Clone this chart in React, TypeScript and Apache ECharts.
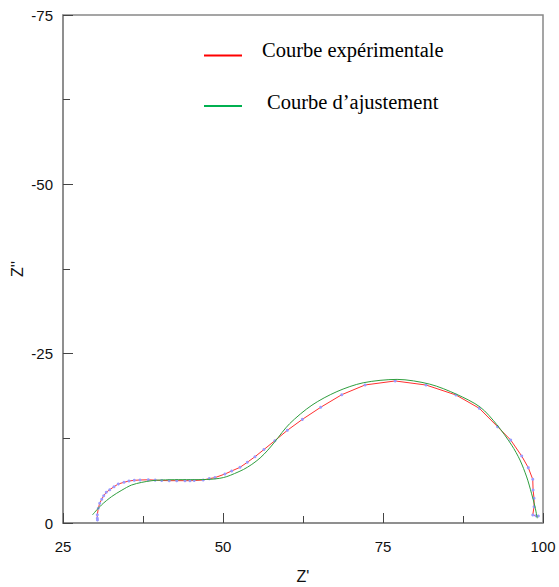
import React, { useEffect, useRef } from "react";
import * as echarts from "echarts";

// Experimental data: Z' (ohm), Z'' (ohm)
const expZre = [30.38, 30.36, 30.36, 30.52, 30.73, 31.05, 31.36, 31.77, 32.3, 32.97, 33.64, 34.53, 35.31, 36.14, 37.03, 38.33, 39.4, 40.42, 41.6, 42.77, 44.06, 44.84, 45.5, 46.9, 47.86, 48.75, 50.3, 51.36, 52.66, 53.8, 55.0, 56.4, 58.1, 60.05, 62.4, 65.26, 68.55, 72.2, 76.9, 81.72, 86.4, 90.05, 92.9, 94.95, 96.67, 97.7, 98.4, 98.45, 98.6, 98.6, 98.4, 98.9, 99.27];
const expZim = [-0.45, -0.7, -1.2, -2.17, -2.9, -3.5, -4.03, -4.53, -4.92, -5.36, -5.76, -6.01, -6.2, -6.3, -6.35, -6.38, -6.33, -6.27, -6.25, -6.25, -6.25, -6.25, -6.27, -6.35, -6.55, -6.7, -7.23, -7.68, -8.22, -8.96, -9.79, -10.85, -12.15, -13.68, -15.3, -17.08, -18.94, -20.38, -20.97, -20.37, -18.9, -16.93, -14.22, -12.25, -9.89, -8.17, -6.45, -4.87, -3.64, -2.41, -1.18, -1.08, -1.03];

// Fitted curve
const fitZre = [29.6, 31.0, 32.6, 34.2, 35.7, 37.3, 38.9, 40.4, 43.0, 45.5, 48.0, 49.5, 50.6, 51.8, 53.2, 54.5, 55.8, 57.0, 58.1, 60.4, 63.9, 67.8, 71.9, 77.2, 82.3, 86.5, 90.2, 92.8, 95.1, 96.4, 97.45, 98.2, 98.75, 99.1];
const fitZim = [-1.2, -2.65, -3.9, -4.85, -5.6, -6.0, -6.25, -6.35, -6.4, -6.4, -6.45, -6.6, -6.85, -7.3, -7.9, -8.65, -9.6, -10.75, -12.0, -14.65, -17.4, -19.4, -20.7, -21.2, -20.5, -19.0, -17.1, -14.5, -11.5, -9.3, -6.8, -4.4, -2.4, -0.7];

const legendLabels = ["Courbe expérimentale", "Courbe d\u2019ajustement"];
const xTicks = { min: 25, max: 100, interval: 25 };
const yTicks = { min: -75, max: 0, interval: 25 };

export default function App() {
  const ref = useRef<HTMLDivElement>(null);
  useEffect(() => {
    document.body.style.margin = "0";
    if (!ref.current) return;
    const chart = echarts.init(ref.current, null, { renderer: "svg" });
    const axisColor = "#888888";
    const labelFont = { fontFamily: "Liberation Sans", fontSize: 15, color: "#111" };
    chart.setOption({
      animation: false,
      backgroundColor: "#fff",
      grid: {
        left: 63,
        right: 16,
        top: 15,
        bottom: 64,
        show: true,
        borderColor: axisColor,
        borderWidth: 1.5,
        backgroundColor: "transparent",
        containLabel: false,
        outerBoundsMode: "none",
      },
      xAxis: {
        type: "value",
        min: xTicks.min,
        max: xTicks.max,
        interval: xTicks.interval,
        name: "Z'",
        nameLocation: "middle",
        nameGap: 45,
        nameMoveOverlap: false,
        nameTextStyle: { fontFamily: "Liberation Sans", fontSize: 16, color: "#111" },
        axisLine: { show: true, lineStyle: { color: axisColor, width: 1.5 } },
        axisTick: { show: true, inside: true, length: 10, lineStyle: { color: "#444", width: 1 } },
        minorTick: { show: true, splitNumber: 2, length: 7, lineStyle: { color: "#444", width: 1 } },
        splitLine: { show: false },
        axisLabel: { ...labelFont, margin: 16 },
      },
      yAxis: {
        type: "value",
        min: yTicks.min,
        max: yTicks.max,
        interval: yTicks.interval,
        inverse: true,
        name: "Z''",
        nameLocation: "middle",
        nameGap: 38,
        nameMoveOverlap: false,
        nameRotate: 90,
        nameTextStyle: { fontFamily: "Liberation Sans", fontSize: 16, color: "#111" },
        axisLine: { show: true, lineStyle: { color: axisColor, width: 1.5 } },
        axisTick: { show: true, inside: true, length: 10, lineStyle: { color: "#444", width: 1 } },
        minorTick: { show: true, splitNumber: 2, length: 7, lineStyle: { color: "#444", width: 1 } },
        splitLine: { show: false },
        axisLabel: { ...labelFont, margin: 10 },
      },
      series: [
        {
          name: legendLabels[0],
          type: "line",
          data: expZre.map((x, i) => [x, expZim[i]]),
          symbol: "circle",
          symbolSize: 3,
          showSymbol: true,
          itemStyle: { color: "#9a9aff" },
          lineStyle: { color: "#ff3030", width: 1 },
          z: 2,
        },
        {
          name: legendLabels[1],
          type: "line",
          data: fitZre.map((x, i) => [x, fitZim[i]]),
          symbol: "none",
          smooth: 0.3,
          lineStyle: { color: "#2e9e3e", width: 1 },
          z: 3,
        },
      ],
      graphic: [
        { type: "line", shape: { x1: 204, y1: 55.5, x2: 242, y2: 55.5 }, style: { stroke: "#ff0000", lineWidth: 2 } },
        { type: "line", shape: { x1: 204, y1: 106, x2: 242, y2: 106 }, style: { stroke: "#00b050", lineWidth: 2 } },
        {
          type: "text",
          x: 262,
          y: 50,
          style: { text: legendLabels[0], fontFamily: "Liberation Serif", fontSize: 20.5, fill: "#000", verticalAlign: "middle", align: "left" },
        },
        {
          type: "text",
          x: 267,
          y: 101.5,
          style: { text: legendLabels[1], fontFamily: "Liberation Serif", fontSize: 20.5, fill: "#000", verticalAlign: "middle", align: "left" },
        },
      ],
    });
    return () => chart.dispose();
  }, []);
  return <div ref={ref} style={{ width: 559, height: 587 }} />;
}
